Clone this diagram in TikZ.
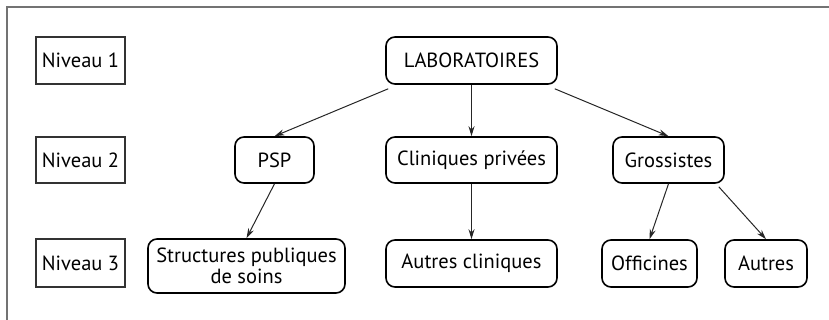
\documentclass[tikz,border=0pt]{standalone}
\usepackage{fontspec}
\setmainfont{PT Sans}
\usetikzlibrary{arrows.meta}
\begin{document}
\begin{tikzpicture}[x=1pt,y=-1pt,
  every node/.style={font=\fontsize{20.5}{21}\selectfont, inner sep=0pt},
  level/.style={draw=black!80, line width=1.1pt, rectangle},
  box/.style={draw=black, line width=1.6pt, rounded corners=9pt, rectangle, align=center},
  arr/.style={draw=black!85, line width=1pt, -{Stealth[length=10pt,width=6pt]}},
  frame/.style={draw=black!55, line width=1.6pt}]
\useasboundingbox (0,0) rectangle (829,320);
\coordinate (ftr) at (829,7);
\coordinate (ftl) at (7,7);
\coordinate (fbl) at (7,320);
\draw[frame] (ftr) -- (ftl) -- (fbl);
% level labels
\node[level, minimum width=89pt, minimum height=47pt] (n1) at (80.5,60.5) {Niveau 1};
\node[level, minimum width=89pt, minimum height=46pt] (n2) at (80.5,160) {Niveau 2};
\node[level, minimum width=89pt, minimum height=48pt] (n3) at (80.5,263) {Niveau 3};
% boxes
\node[box, minimum width=171pt, minimum height=47pt] (lab) at (471.5,60.5) {LABORATOIRES};
\node[box, minimum width=79pt, minimum height=46pt] (psp) at (274.5,160) {PSP};
\node[box, minimum width=171pt, minimum height=46pt] (cli) at (471.5,160) {Cliniques privées};
\node[box, minimum width=111pt, minimum height=46pt] (gro) at (668.5,160) {Grossistes};
\node[box, minimum width=197pt, minimum height=54pt] (spu) at (246.5,266) {Structures publiques\\de soins};
\node[box, minimum width=171pt, minimum height=47pt] (acl) at (471.5,263.5) {Autres cliniques};
\node[box, minimum width=95pt, minimum height=47pt] (off) at (649.5,263.5) {Officines};
\node[box, minimum width=82pt, minimum height=47pt] (aut) at (766,263.5) {Autres};
% arrows
\draw[arr] (lab.south west) ++(3pt,-4pt) coordinate (labsw) (labsw) -- (psp.north);
\draw[arr] (lab.south) -- (cli.north);
\draw[arr] (lab.south east) ++(-3pt,-4pt) coordinate (labse) (labse) -- (gro.north);
\draw[arr] (psp.south) -- (spu.north);
\draw[arr] (cli.south) -- (acl.north);
\draw[arr] (gro.south) -- (off.north);
\draw[arr] (gro.south east) ++(-6pt,-3pt) coordinate (grose) (grose) -- (aut.north);
\end{tikzpicture}
\end{document}
